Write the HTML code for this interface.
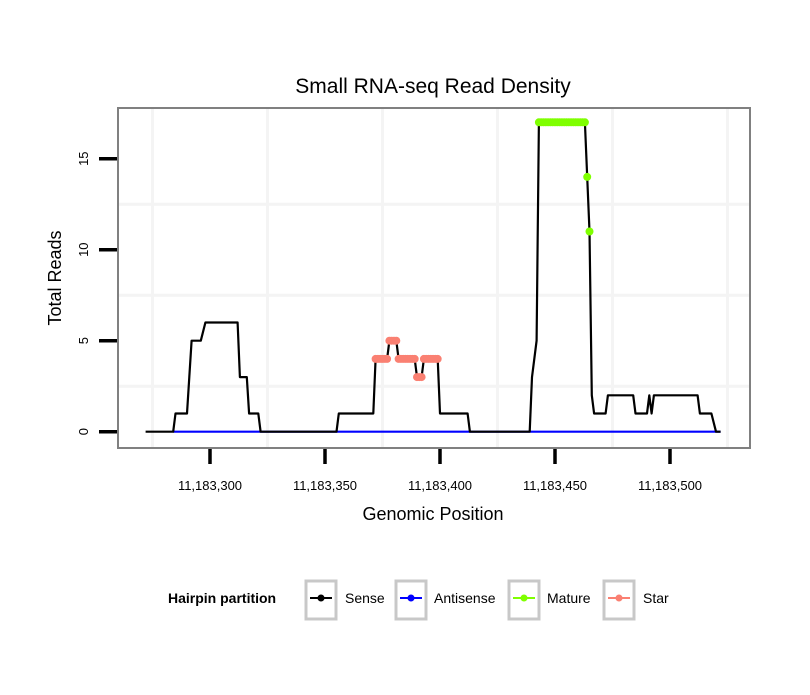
<!DOCTYPE html>
<html><head><meta charset="utf-8"><style>
body{margin:0;background:#fff;font-family:"Liberation Sans",sans-serif}
svg text{font-family:"Liberation Sans",sans-serif}
</style></head><body>
<svg width="810" height="690" viewBox="0 0 810 690">
<rect x="0" y="0" width="810" height="690" fill="#fff"/>
<text x="433" y="93" font-size="21" text-anchor="middle">Small RNA-seq Read Density</text>
<g id="grid"></g>
<g id="series"></g>
<rect x="118" y="108" width="632" height="340" fill="none" stroke="#808080" stroke-width="2"/>
<g id="axes"></g>
<text x="433" y="520" font-size="18" text-anchor="middle">Genomic Position</text>
<text transform="translate(61,278) rotate(-90)" font-size="18" text-anchor="middle">Total Reads</text>
<g>
<text x="168" y="603" font-size="14" font-weight="bold">Hairpin partition</text>
<g><rect x="306" y="581" width="30" height="38" fill="#fff" stroke="#c8c8c8" stroke-width="3"/><line x1="310" y1="598" x2="332" y2="598" stroke="#000" stroke-width="2"/><circle cx="321" cy="598" r="3.5" fill="#000"/><text x="345" y="603" font-size="14">Sense</text></g>
<g><rect x="396" y="581" width="30" height="38" fill="#fff" stroke="#c8c8c8" stroke-width="3"/><line x1="400" y1="598" x2="422" y2="598" stroke="#0000ff" stroke-width="2"/><circle cx="411" cy="598" r="3.5" fill="#0000ff"/><text x="434" y="603" font-size="14">Antisense</text></g>
<g><rect x="509" y="581" width="30" height="38" fill="#fff" stroke="#c8c8c8" stroke-width="3"/><line x1="513" y1="598" x2="535" y2="598" stroke="#7fff00" stroke-width="2"/><circle cx="524" cy="598" r="3.5" fill="#7fff00"/><text x="547" y="603" font-size="14">Mature</text></g>
<g><rect x="604" y="581" width="30" height="38" fill="#fff" stroke="#c8c8c8" stroke-width="3"/><line x1="608" y1="598" x2="630" y2="598" stroke="#fa8072" stroke-width="2"/><circle cx="619" cy="598" r="3.5" fill="#fa8072"/><text x="643" y="603" font-size="14">Star</text></g>
</g>
</svg>
<script>
const xTicks=[300,350,400,450,500];
const xTickLabels=["11,183,300","11,183,350","11,183,400","11,183,450","11,183,500"];
const yTicks=[0,5,10,15];
const sensePos=[272,284,285,290,291,292,296,298,312,313,316,317,321,322,355,356,371,372,377,378,381,382,389,390,392,393,399,400,412,413,439,440,442,443,463,464,465,466,467,472,473,484,485,490,491,492,493,512,513,518,520,522];
const senseVal=[0,0,1,1,3,5,5,6,6,3,3,1,1,0,0,1,1,4,4,5,5,4,4,3,3,4,4,1,1,0,0,3,5,17,17,14,11,2,1,1,2,2,1,1,2,1,2,2,1,1,0,0];
const antiPos=[284,522];
const antiVal=[0,0];
const starPos=[372,373,374,375,376,377,378,379,380,381,382,383,384,385,386,387,388,389,390,391,392,393,394,395,396,397,398,399];
const starVal=[4,4,4,4,4,4,5,5,5,5,4,4,4,4,4,4,4,4,3,3,3,4,4,4,4,4,4,4];
const maturePos=[443,444,445,446,447,448,449,450,451,452,453,454,455,456,457,458,459,460,461,462,463,464,465];
const matureVal=[17,17,17,17,17,17,17,17,17,17,17,17,17,17,17,17,17,17,17,17,17,14,11];
const NS="http://www.w3.org/2000/svg";
const xs=p=>210+(p-300)*2.3;
const ys=v=>431.7-v*18.2;
function mk(tag,attrs,parent){const e=document.createElementNS(NS,tag);for(const k in attrs)e.setAttribute(k,attrs[k]);parent.appendChild(e);return e;}
const grid=document.getElementById('grid'),series=document.getElementById('series'),axes=document.getElementById('axes');
mk('rect',{x:118,y:108,width:632,height:340,fill:'#fff'},grid);
for(let i=0;i<=xTicks.length;i++){const p=xTicks[0]-25+i*50;const g=mk('line',{x1:xs(p),x2:xs(p),y1:109,y2:447,stroke:'#f4f4f4','stroke-width':3},grid);

}
[2.5,7.5,12.5].forEach(v=>{const g=mk('line',{x1:119,x2:749,y1:ys(v),y2:ys(v),stroke:'#f4f4f4','stroke-width':3},grid);

});
function line(P,V,color,name){const d=P.map((p,i)=>(i?'L':'M')+xs(p).toFixed(1)+','+ys(V[i]).toFixed(1)).join('');const e=mk('path',{d:d,fill:'none',stroke:color,'stroke-width':2.2,'stroke-linejoin':'round'},series);

}
function dots(P,V,color,name){P.forEach((p,i)=>{const e=mk('ellipse',{cx:xs(p),cy:ys(V[i]),rx:4,ry:4,fill:color},series);

});}
line(antiPos,antiVal,'#0000ff','antisense-line');
line(sensePos,senseVal,'#000','sense-line');
dots(starPos,starVal,'#fa8072','star-point');
dots(maturePos,matureVal,'#7fff00','mature-point');
xTicks.forEach((t,i)=>{const l=mk('line',{x1:xs(t),x2:xs(t),y1:449,y2:464,stroke:'#000','stroke-width':3.5},axes);


const tx=mk('text',{x:xs(t),y:490,'font-size':13,'text-anchor':'middle'},axes);tx.textContent=xTickLabels[i];

});
yTicks.forEach(t=>{const l=mk('line',{x1:99,x2:117,y1:ys(t),y2:ys(t),stroke:'#000','stroke-width':3.5},axes);


const tx=mk('text',{transform:'translate(88,'+ys(t)+') rotate(-90)','font-size':13,'text-anchor':'middle'},axes);tx.textContent=t;

});
</script>
</body></html>
